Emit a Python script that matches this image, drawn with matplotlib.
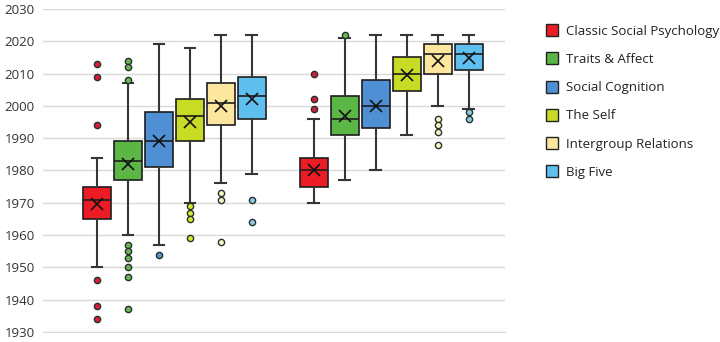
import matplotlib
matplotlib.use("Agg")
import matplotlib.pyplot as plt
from matplotlib.lines import Line2D

plt.rcParams["font.family"] = ["Open Sans", "DejaVu Sans"]

categories = ["Classic Social Psychology", "Traits & Affect", "Social Cognition",
              "The Self", "Intergroup Relations", "Big Five"]
colors = ["#ed1c24", "#5cb646", "#4f8fd3", "#c8dc26", "#fde69d", "#5fc0f0"]
flier_colors = ["#d81b3c", "#6cb653", "#5c95c8", "#d9e830", "#fff3c4", "#8cc8e8"]

# group 1 (left) and group 2 (right): whisker low, Q1, median, Q3, whisker high, mean
g1_whislo = [1950, 1960, 1957, 1970, 1976, 1979]
g1_q1 = [1965, 1977, 1981, 1989, 1994, 1996]
g1_med = [1971, 1983, 1989, 1997, 2001, 2003]
g1_q3 = [1975, 1989, 1998, 2002, 2007, 2009]
g1_whishi = [1984, 2007, 2019, 2018, 2022, 2022]
g1_mean = [1969.5, 1982, 1989, 1995, 2000, 2002]
g1_fliers = [
    [2013, 2009, 1994, 1946, 1938, 1934],
    [2014, 2012, 2008, 1957, 1955, 1953, 1950, 1947, 1937],
    [1954],
    [1969, 1967, 1965, 1959],
    [1973, 1971, 1958],
    [1971, 1964],
]

g2_whislo = [1970, 1977, 1980, 1991, 2000, 1999]
g2_q1 = [1975, 1991, 1993, 2004.5, 2010, 2011]
g2_med = [1980, 1996, 2000, 2010, 2016, 2016]
g2_q3 = [1984, 2003, 2008, 2015, 2019, 2019]
g2_whishi = [1996, 2021, 2022, 2022, 2022, 2022]
g2_mean = [1980, 1997, 2000, 2009.5, 2014, 2014.8]
g2_fliers = [
    [2010, 2002, 1999],
    [2022],
    [],
    [],
    [1996, 1994, 1992, 1988],
    [1998, 1996],
]


def make_stats(lo, q1, med, q3, hi, mean, fl):
    return [dict(whislo=a, q1=b, med=c, q3=d, whishi=e, mean=f, fliers=g)
            for a, b, c, d, e, f, g in zip(lo, q1, med, q3, hi, mean, fl)]


stats1 = make_stats(g1_whislo, g1_q1, g1_med, g1_q3, g1_whishi, g1_mean, g1_fliers)
stats2 = make_stats(g2_whislo, g2_q1, g2_med, g2_q3, g2_whishi, g2_mean, g2_fliers)

fig = plt.figure(figsize=(7.2, 3.42), dpi=100)
ax = fig.add_axes([0.06, 0.029, 0.642, 0.945])

edge = "#1e1e1e"
wcol = "#363636"
for stats, offset in [(stats1, 1), (stats2, 8)]:
    for i, st in enumerate(stats):
        ax.bxp([st], positions=[offset + i], widths=0.9, patch_artist=True,
               showmeans=True, showfliers=True, capwidths=0.35,
               boxprops=dict(facecolor=colors[i], edgecolor=edge, linewidth=1.2),
               medianprops=dict(color=edge, linewidth=1.2),
               whiskerprops=dict(color=wcol, linewidth=1.5),
               capprops=dict(color=wcol, linewidth=1.5),
               meanprops=dict(marker="x", markeredgecolor="#111111",
                              markersize=9, markeredgewidth=1.2),
               flierprops=dict(marker="o", markerfacecolor=flier_colors[i],
                               markeredgecolor="#24332a", markersize=4.5,
                               markeredgewidth=1.0))

ax.set_xlim(-0.74, 14.19)
ax.set_ylim(1930, 2030)
ax.set_yticks(range(1930, 2031, 10))
ax.set_xticks([])
ax.yaxis.grid(True, color="#d9d9d9", linewidth=1.0)
ax.set_axisbelow(True)
for s in ["top", "right", "left"]:
    ax.spines[s].set_visible(False)
ax.spines["bottom"].set_color("#d9d9d9")
ax.tick_params(axis="y", length=0, labelsize=9.5, labelcolor="#333333", pad=6)

handles = [Line2D([], [], linestyle="none", marker="s", markersize=9,
                  markerfacecolor=c, markeredgecolor="#222222", markeredgewidth=1.0)
           for c in colors]
fig.legend(handles, categories, loc="upper left", bbox_to_anchor=(0.742, 0.962),
           frameon=False, fontsize=9.5, labelspacing=1.15, handlelength=0.9,
           handletextpad=0.6, labelcolor="#222222")

fig.savefig("out.png", dpi=100, facecolor="white")
